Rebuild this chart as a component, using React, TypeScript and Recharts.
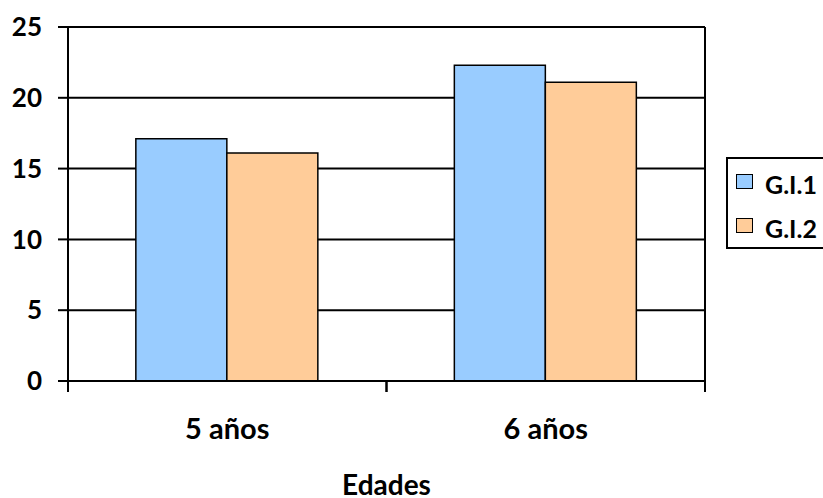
import React from 'react';
import { BarChart, Bar, XAxis, YAxis, CartesianGrid, Legend } from 'recharts';

const categories = ['5 años', '6 años'];
const gi1Values = [17.1, 22.3];
const gi2Values = [16.1, 21.1];
const yTicks = [0, 5, 10, 15, 20, 25];
const seriesNames = ['G.I.1', 'G.I.2'];
const seriesColors = ['#99CCFF', '#FFCC99'];

const data = categories.map((c, i) => ({ cat: c, g1: gi1Values[i], g2: gi2Values[i] }));

const FONT = 'Lato, "Open Sans", sans-serif';
const TICK_MARGIN = 37;

const LegendBox = () => (
  <div style={{ width: 145, height: 92, position: 'relative' }}>
    <div
      style={{
        position: 'absolute',
        left: 21,
        top: 0,
        width: 124,
        height: 92,
        border: '2px solid #000',
        boxSizing: 'border-box',
        background: '#fff',
      }}
    >
      {seriesNames.map((name, i) => (
        <React.Fragment key={name}>
          <div
            style={{
              position: 'absolute',
              left: 8,
              top: 15 + i * 44,
              width: 17,
              height: 15,
              boxSizing: 'border-box',
              border: '1.5px solid #000',
              background: seriesColors[i],
            }}
          />
          <div
            style={{
              position: 'absolute',
              left: 37,
              top: 12.5 + i * 44,
              fontFamily: FONT,
              fontWeight: 700,
              fontSize: 25,
              lineHeight: '25px',
              color: '#000',
              whiteSpace: 'nowrap',
            }}
          >
            {name}
          </div>
        </React.Fragment>
      ))}
    </div>
  </div>
);

const CategoryTick = (props: any) => {
  const { x, y, payload } = props;
  const half = payload && typeof payload.offset === 'number' ? payload.offset : 159.25;
  const axisY = y - TICK_MARGIN;
  return (
    <g>
      <line x1={x - half} x2={x - half} y1={axisY} y2={axisY + 11} stroke="#000" strokeWidth={2} />
      <line x1={x + half} x2={x + half} y1={axisY} y2={axisY + 11} stroke="#000" strokeWidth={2} />
      <text
        x={x}
        y={y}
        dy="0.71em"
        textAnchor="middle"
        fill="#000"
        fontSize={29}
        fontWeight={700}
        fontFamily={FONT}
      >
        {payload.value}
      </text>
    </g>
  );
};

export default function App() {
  return (
    <div
      style={{
        position: 'absolute',
        left: 0,
        top: 0,
        width: 823,
        height: 498,
        overflow: 'hidden',
        background: '#fff',
      }}
    >
      <BarChart
        width={860}
        height={498}
        data={data}
        margin={{ top: 27, right: 10, bottom: 0, left: 0 }}
        barCategoryGap="21.3%"
        barGap={0}
      >
        <CartesianGrid
          vertical
          stroke="#000"
          strokeWidth={2}
          verticalCoordinatesGenerator={({ offset }: any) => [offset.left + offset.width]}
        />
        <XAxis
          dataKey="cat"
          height={117}
          axisLine={{ stroke: '#000', strokeWidth: 2 }}
          tickLine={false}
          tickSize={0}
          tickMargin={TICK_MARGIN}
          tick={<CategoryTick />}
          label={{
            value: 'Edades',
            position: 'insideBottom',
            offset: 3,
            fill: '#000',
            fontSize: 28,
            fontWeight: 700,
            fontFamily: FONT,
          }}
        />
        <YAxis
          domain={[0, 25]}
          ticks={yTicks}
          width={68}
          axisLine={{ stroke: '#000', strokeWidth: 2 }}
          tickLine={{ stroke: '#000', strokeWidth: 2 }}
          tickSize={10}
          tickMargin={16}
          tick={{ fill: '#000', fontSize: 26, fontWeight: 700, fontFamily: FONT }}
        />
        <Legend
          layout="vertical"
          align="right"
          verticalAlign="top"
          width={145}
          wrapperStyle={{ top: 157 }}
          content={() => <LegendBox />}
        />
        <Bar
          dataKey="g1"
          name={seriesNames[0]}
          fill={seriesColors[0]}
          stroke="#000"
          strokeWidth={1.5}
          isAnimationActive={false}
        />
        <Bar
          dataKey="g2"
          name={seriesNames[1]}
          fill={seriesColors[1]}
          stroke="#000"
          strokeWidth={1.5}
          isAnimationActive={false}
        />
      </BarChart>
    </div>
  );
}
